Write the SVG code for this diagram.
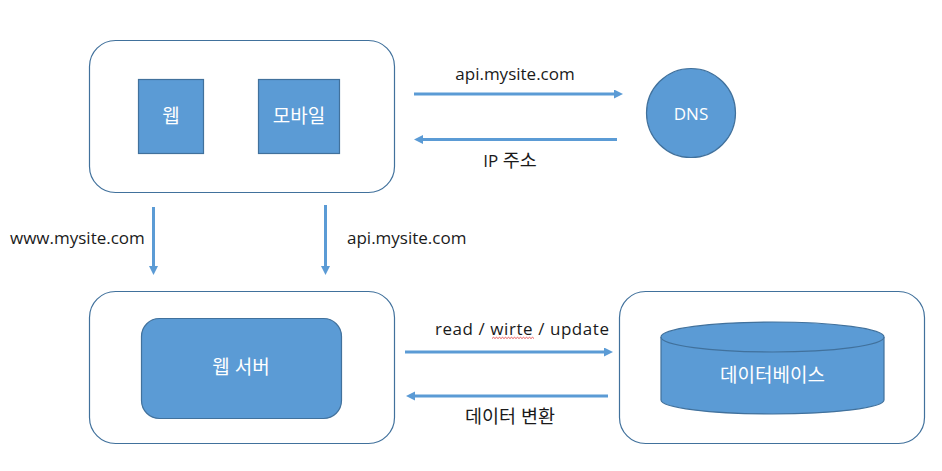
<svg xmlns="http://www.w3.org/2000/svg" width="942" height="471" viewBox="0 0 942 471">
<style>
.outer{fill:#ffffff;stroke:#41719C;stroke-width:1.2}
.node{fill:#5B9BD5;stroke:#41719C;stroke-width:1.2}
.wt{fill:#ffffff;font-family:"Open Sans","Noto Sans CJK KR",sans-serif;font-size:19px;text-anchor:middle;dominant-baseline:central}
.lbl{fill:#1a1a1a;font-family:"Open Sans","Noto Sans CJK KR",sans-serif;font-size:17px}
.ko{font-size:18.5px}
.conn{stroke:#5B9BD5;stroke-width:3;fill:none;marker-end:url(#ah)}
</style>
<defs>
<marker id="ah" markerUnits="userSpaceOnUse" markerWidth="10" markerHeight="10" refX="3" refY="4.5" orient="auto">
<path d="M0,0 L9,4.5 L0,9 Z" fill="#5B9BD5"/>
</marker>
</defs>
<rect width="942" height="471" fill="#ffffff"/>

<g id="client">
<rect class="outer" x="89.5" y="40.5" width="305" height="152" rx="26"/>
<g id="web">
<rect class="node" x="138.5" y="79.5" width="65" height="74"/>
<text class="wt" x="171" y="116">웹</text>
</g>
<g id="mobile">
<rect class="node" x="258.5" y="79.5" width="81" height="74"/>
<text class="wt" x="299" y="116">모바일</text>
</g>
</g>

<g id="dns">
<circle class="node" cx="691" cy="113" r="44.5"/>
<text class="wt" x="691" y="113" style="font-size:17px">DNS</text>
</g>

<g id="webserver-area">
<rect class="outer" x="89.5" y="291.5" width="305" height="152" rx="26"/>
<g id="webserver">
<rect class="node" x="141.5" y="318.5" width="200" height="100" rx="18"/>
<text class="wt" x="241" y="367">웹 서버</text>
</g>
</g>

<g id="database-area">
<rect class="outer" x="619.5" y="291.5" width="305" height="152" rx="26"/>
<g id="database">
<path class="node" d="M661,337 V400 A111.5,14 0 0 0 884,400 V337"/>
<ellipse class="node" cx="772.5" cy="337" rx="111.5" ry="15"/>
<text class="wt" x="772.5" y="375">데이터베이스</text>
</g>
</g>

<g id="connectors">
<line class="conn" x1="414" y1="94" x2="617" y2="94"/>
<line class="conn" x1="617" y1="139.5" x2="420" y2="139.5"/>
<line class="conn" x1="153.5" y1="207" x2="153.5" y2="269"/>
<line class="conn" x1="325.5" y1="205" x2="325.5" y2="269"/>
<line class="conn" x1="405" y1="352" x2="607" y2="352"/>
<line class="conn" x1="608" y1="396" x2="412" y2="396"/>
</g>

<g id="labels">
<text class="lbl" x="515" y="80" text-anchor="middle">api.mysite.com</text>
<text class="lbl" x="510" y="167" text-anchor="middle">IP <tspan class="ko">주소</tspan></text>
<text class="lbl" x="10" y="244">www.mysite.com</text>
<text class="lbl" x="347" y="243.5">api.mysite.com</text>
<text class="lbl" x="435" y="335" textLength="174" lengthAdjust="spacing">read / wirte / update</text>
<text class="lbl ko" x="510" y="415" text-anchor="middle" dominant-baseline="central">데이터 변환</text>
<path d="M492,338.5 l1.5,-1.2 l1.5,1.2 l1.5,-1.2 l1.5,1.2 l1.5,-1.2 l1.5,1.2 l1.5,-1.2 l1.5,1.2 l1.5,-1.2 l1.5,1.2 l1.5,-1.2 l1.5,1.2 l1.5,-1.2 l1.5,1.2 l1.5,-1.2 l1.5,1.2 l1.5,-1.2 l1.5,1.2 l1.5,-1.2 l1.5,1.2 l1.5,-1.2 l1.5,1.2 l1.5,-1.2 l1.5,1.2 l1.5,-1.2 l1.5,1.2 l1.5,-1.2 l1.5,1.2" fill="none" stroke="#e03030" stroke-width="0.8"/>
</g>
</svg>
